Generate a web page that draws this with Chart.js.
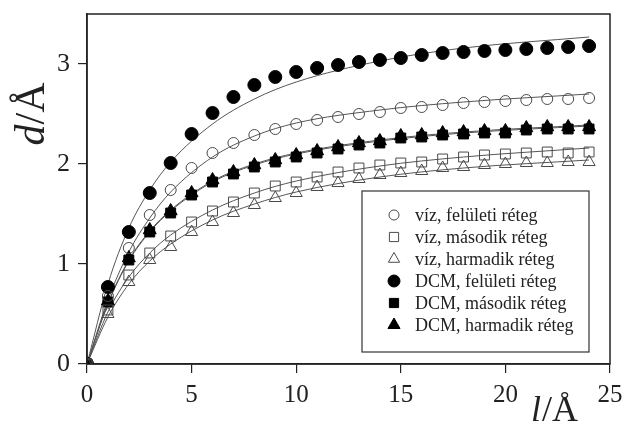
<!DOCTYPE html>
<html>
<head>
<meta charset="utf-8">
<script src="https://cdn.jsdelivr.net/npm/chart.js@4"></script>
<style>
  body { margin: 0; background: #fff; }
  #wrap { width: 623px; height: 424px; }
</style>
</head>
<body>
<div id="wrap"><canvas id="myChart" width="623" height="424"></canvas></div>
<script>
// measured points, x = l / Å
var lValues = [0,1,2,3,4,5,6,7,8,9,10,11,12,13,14,15,16,17,18,19,20,21,22,23,24]
var vizFel = [0,0.68,1.16,1.49,1.74,1.96,2.11,2.21,2.29,2.35,2.40,2.44,2.47,2.50,2.52,2.56,2.57,2.59,2.61,2.62,2.63,2.64,2.65,2.65,2.66]
var vizMas = [0,0.54,0.89,1.11,1.28,1.42,1.53,1.62,1.71,1.78,1.82,1.87,1.92,1.96,1.99,2.01,2.02,2.05,2.07,2.09,2.10,2.11,2.12,2.11,2.12]
var vizHar = [0,0.50,0.82,1.04,1.17,1.32,1.42,1.51,1.59,1.66,1.71,1.77,1.81,1.85,1.89,1.91,1.93,1.96,1.97,1.99,2.00,2.01,2.01,2.02,2.02]
var dcmFel = [0,0.77,1.32,1.71,2.01,2.30,2.51,2.67,2.79,2.87,2.92,2.96,2.99,3.02,3.04,3.06,3.09,3.11,3.12,3.13,3.14,3.15,3.16,3.17,3.18]
var dcmMas = [0,0.62,1.04,1.32,1.51,1.69,1.82,1.90,1.97,2.02,2.07,2.11,2.15,2.19,2.21,2.26,2.27,2.29,2.30,2.31,2.31,2.34,2.35,2.35,2.35]
var dcmHar = [0,0.63,1.06,1.34,1.53,1.71,1.84,1.92,1.99,2.04,2.09,2.13,2.17,2.21,2.23,2.28,2.29,2.31,2.32,2.33,2.33,2.36,2.37,2.37,2.37]

// fitted curves
var fitX = [0,1,2,3,4,6,8,10,14,18,24]
var fitVizFel = [0,0.64,1.12,1.46,1.72,2.07,2.28,2.41,2.54,2.62,2.70]
var fitVizMas = [0,0.52,0.87,1.11,1.29,1.54,1.71,1.83,1.98,2.07,2.16]
var fitVizHar = [0,0.47,0.80,1.03,1.20,1.44,1.60,1.72,1.87,1.96,2.04]
var fitDcmFel = [0,0.80,1.36,1.74,2.02,2.40,2.65,2.82,3.03,3.16,3.27]
var fitDcmMas = [0,0.60,1.03,1.32,1.53,1.82,1.99,2.10,2.23,2.31,2.38]
var fitDcmHar = [0,0.61,1.04,1.33,1.54,1.83,2.00,2.11,2.24,2.32,2.39]

var seriesLabels = ['víz, felületi réteg', 'víz, második réteg', 'víz, harmadik réteg',
                    'DCM, felületi réteg', 'DCM, második réteg', 'DCM, harmadik réteg']
var xTicks = [0, 5, 10, 15, 20, 25]
var yTicks = [0, 1, 2, 3]

function pts(xs, ys){
    return xs.map(function(x, i){ return {x: x, y: ys[i]} })
}

var serif = "'Liberation Serif', 'Times New Roman', serif"
var openCol = '#4a4a4a'

var markers = [
    {data: vizFel, style: 'circle',   r: 5.5, fill: 'rgba(0,0,0,0)', lr: 5},
    {data: vizMas, style: 'rect',     r: 7,   fill: 'rgba(0,0,0,0)', lr: 6.5},
    {data: vizHar, style: 'triangle', r: 7,   fill: 'rgba(0,0,0,0)', lr: 6.5},
    {data: dcmFel, style: 'circle',   r: 6.5, fill: '#000', lr: 6},
    {data: dcmMas, style: 'rect',     r: 7,   fill: '#000', lr: 6.5},
    {data: dcmHar, style: 'triangle', r: 7.5, fill: '#000', lr: 7}
]
var fits = [fitVizFel, fitVizMas, fitVizHar, fitDcmFel, fitDcmMas, fitDcmHar]

var datasets = []
fits.forEach(function(f){
    datasets.push({
        type: 'line',
        data: pts(fitX, f),
        borderColor: '#555',
        borderWidth: 1,
        pointRadius: 0,
        fill: false,
        cubicInterpolationMode: 'monotone',
        order: 2
    })
})
markers.forEach(function(m, i){
    datasets.push({
        type: 'scatter',
        label: seriesLabels[i],
        data: pts(lValues, m.data),
        pointStyle: m.style,
        pointRadius: m.r,
        pointHoverRadius: m.r,
        pointBackgroundColor: m.fill,
        pointBorderColor: m.fill === '#000' ? '#000' : openCol,
        pointBorderWidth: 1,
        showLine: false,
        order: 1
    })
})

var decorations = {
    id: 'decorations',
    afterDraw: function(chart){
        var ctx = chart.ctx
        var a = chart.chartArea
        ctx.save()
        // frame
        ctx.strokeStyle = '#222'
        ctx.lineWidth = 1.5
        ctx.strokeRect(a.left, a.top, a.right - a.left, a.bottom - a.top)

        // legend box
        var bx = 362, by = 191, bw = 227, bh = 161
        ctx.fillStyle = '#fff'
        ctx.fillRect(bx, by, bw, bh)
        ctx.lineWidth = 1.2
        ctx.strokeStyle = '#333'
        ctx.strokeRect(bx, by, bw, bh)
        ctx.font = '18px ' + serif
        ctx.textBaseline = 'middle'
        ctx.textAlign = 'left'
        markers.forEach(function(m, i){
            var y = 215 + i * 22
            ctx.fillStyle = m.fill
            ctx.strokeStyle = m.fill === '#000' ? '#000' : openCol
            ctx.lineWidth = 1
            Chart.helpers.drawPoint(ctx, {pointStyle: m.style, radius: m.lr, rotation: 0, borderWidth: 1}, 394, y)
            ctx.fillStyle = '#222'
            ctx.fillText(seriesLabels[i], 415, y + 1)
        })

        // axis titles
        ctx.fillStyle = '#222'
        ctx.textBaseline = 'alphabetic'
        // y title, rotated
        ctx.save()
        ctx.translate(44, 114)
        ctx.rotate(-Math.PI / 2)
        ctx.font = 'italic 42px ' + serif
        var w1 = ctx.measureText('d').width
        ctx.font = '42px ' + serif
        var w2 = ctx.measureText('/Å').width
        var sx = -(w1 + w2) / 2
        ctx.font = 'italic 42px ' + serif
        ctx.fillText('d', sx, 0)
        ctx.font = '42px ' + serif
        ctx.fillText('/Å', sx + w1, 0)
        ctx.restore()
        // x title
        ctx.font = 'italic 36px ' + serif
        var v1 = ctx.measureText('l').width
        ctx.fillText('l', 531, 421)
        ctx.font = '36px ' + serif
        ctx.fillText('/Å', 531 + v1 + 1, 421)
        ctx.restore()
    }
}

function noPad(s){
    s.paddingTop = 0
    s.paddingBottom = 0
    s.paddingLeft = 0
    s.paddingRight = 0
}

var ctx = document.getElementById('myChart').getContext('2d')
var chart = new Chart(ctx, {
    data: { datasets: datasets },
    options: {
        responsive: false,
        animation: false,
        layout: { padding: { top: 14, right: 13, bottom: 0, left: 0 } },
        plugins: {
            legend: { display: false },
            tooltip: { enabled: false }
        },
        scales: {
            x: {
                type: 'linear',
                min: 0,
                max: 25,
                afterFit: function(s){ s.height = 60; noPad(s) },
                afterBuildTicks: function(s){ s.ticks = xTicks.map(function(v){ return {value: v} }) },
                ticks: { color: '#222', padding: 7, font: { family: serif, size: 25 } },
                grid: { drawOnChartArea: false, drawTicks: true, tickLength: 9, color: '#222', lineWidth: 1.2 },
                border: { color: '#222', width: 1.5 }
            },
            y: {
                type: 'linear',
                min: 0,
                max: 3.5,
                afterFit: function(s){ s.width = 87; noPad(s) },
                afterBuildTicks: function(s){ s.ticks = yTicks.map(function(v){ return {value: v} }) },
                ticks: { color: '#222', padding: 8, font: { family: serif, size: 26 } },
                grid: { drawOnChartArea: false, drawTicks: true, tickLength: 9, color: '#222', lineWidth: 1.2 },
                border: { color: '#222', width: 1.5 }
            }
        }
    },
    plugins: [decorations]
})
</script>
</body>
</html>
